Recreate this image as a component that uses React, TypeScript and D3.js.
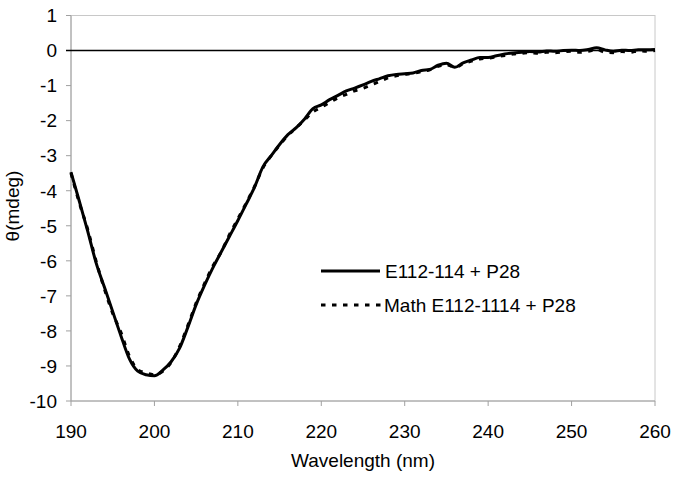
import React from "react";
import * as d3 from "d3";

const wavelengths: number[] = d3.range(190, 261);

const solidValues: number[] = [
  -3.47, -4.3, -5.15, -6.05, -6.75, -7.45, -8.15, -8.8, -9.15, -9.25,
  -9.28, -9.12, -8.88, -8.5, -7.9, -7.25, -6.7, -6.2, -5.75, -5.3,
  -4.85, -4.38, -3.9, -3.32, -3.0, -2.68, -2.4, -2.2, -1.95, -1.66,
  -1.55, -1.4, -1.28, -1.15, -1.07, -0.98, -0.88, -0.8, -0.72, -0.68,
  -0.66, -0.64, -0.57, -0.54, -0.42, -0.36, -0.48, -0.35, -0.27, -0.2,
  -0.2, -0.15, -0.1, -0.07, -0.05, -0.03, -0.04, -0.01, -0.02, 0.0,
  0.01, 0.0, 0.03, 0.08, 0.02, -0.02, 0.01, 0.0, 0.02, 0.02, 0.03,
];

const mathValues: number[] = [
  -3.5, -4.35, -5.1, -6.0, -6.8, -7.5, -8.05, -8.72, -9.1, -9.2,
  -9.25, -9.15, -8.9, -8.45, -7.85, -7.2, -6.65, -6.15, -5.75, -5.25,
  -4.8, -4.35, -3.88, -3.35, -3.0, -2.7, -2.42, -2.2, -1.98, -1.75,
  -1.62, -1.48, -1.35, -1.25, -1.15, -1.08, -0.98, -0.88, -0.78, -0.72,
  -0.68, -0.65, -0.6, -0.55, -0.45, -0.4, -0.48, -0.38, -0.3, -0.24,
  -0.22, -0.18, -0.14, -0.1, -0.08, -0.06, -0.08, -0.05, -0.06, -0.04,
  -0.02, -0.05, -0.02, 0.03, -0.05, -0.06, -0.03, -0.05, -0.01, -0.02, 0.0,
];

const xTicks: number[] = [190, 200, 210, 220, 230, 240, 250, 260];
const yTicks: number[] = [1, 0, -1, -2, -3, -4, -5, -6, -7, -8, -9, -10];
const seriesNames: string[] = ["E112-114 + P28", "Math E112-1114 + P28"];
const xTitle = "Wavelength (nm)";
const yTitle = "θ(mdeg)";

const W = 685;
const H = 482;
const L = 71;
const R = 655;
const T = 15.5;
const B = 401;
const FONT = "'Liberation Sans', Arial, Helvetica, sans-serif";

export default function App() {
  const x = d3.scaleLinear().domain([190, 260]).range([L, R]);
  const y = d3.scaleLinear().domain([-10, 1]).range([B, T]);
  const line = d3
    .line<[number, number]>()
    .x((d) => x(d[0]))
    .y((d) => y(d[1]))
    .curve(d3.curveMonotoneX);
  const solidData: [number, number][] = wavelengths.map((w, i) => [w, solidValues[i]]);
  const mathData: [number, number][] = wavelengths.map((w, i) => [w, mathValues[i]]);
  const axisColor = "#a0a0a0";

  return (
    <svg
      width={W}
      height={H}
      style={{ position: "absolute", left: 0, top: 0, background: "#fff" }}
      fontFamily={FONT}
    >
      <rect x={0} y={0} width={W} height={H} fill="#fff" />
      <rect x={L} y={T} width={R - L} height={B - T} fill="none" stroke="#c8c8c8" strokeWidth={1} />
      <line x1={L} x2={L} y1={T} y2={B} stroke={axisColor} strokeWidth={1} />
      <line x1={L} x2={R} y1={B} y2={B} stroke={axisColor} strokeWidth={1} />
      {yTicks.map((t) => (
        <g key={"y" + t}>
          <line x1={L - 5} x2={L} y1={y(t)} y2={y(t)} stroke={axisColor} strokeWidth={1} />
          <text x={57} y={y(t) + 6.8} textAnchor="end" fontSize={19} fill="#000">
            {t}
          </text>
        </g>
      ))}
      {xTicks.map((t) => (
        <g key={"x" + t}>
          <line x1={x(t)} x2={x(t)} y1={B} y2={B + 5} stroke={axisColor} strokeWidth={1} />
          <text x={x(t)} y={438} textAnchor="middle" fontSize={19} fill="#000">
            {t}
          </text>
        </g>
      ))}
      <line x1={L - 5} x2={R} y1={y(0)} y2={y(0)} stroke="#000" strokeWidth={1.6} />
      <path d={line(mathData) || ""} fill="none" stroke="#000" strokeWidth={3} strokeDasharray="4.5,6.5" />
      <path d={line(solidData) || ""} fill="none" stroke="#000" strokeWidth={3} strokeLinejoin="round" />
      <line x1={321} x2={380} y1={271} y2={271} stroke="#000" strokeWidth={3} />
      <text x={385} y={278} fontSize={19} fill="#000">
        {seriesNames[0]}
      </text>
      <line x1={321} x2={381} y1={305} y2={305} stroke="#000" strokeWidth={3} strokeDasharray="4.5,6.5" />
      <text x={384} y={312} fontSize={19} fill="#000">
        {seriesNames[1]}
      </text>
      <text x={363} y={467} textAnchor="middle" fontSize={19} fill="#000">
        {xTitle}
      </text>
      <text transform={`translate(19,206) rotate(-90)`} textAnchor="middle" fontSize={19} fill="#000">
        {yTitle}
      </text>
    </svg>
  );
}
